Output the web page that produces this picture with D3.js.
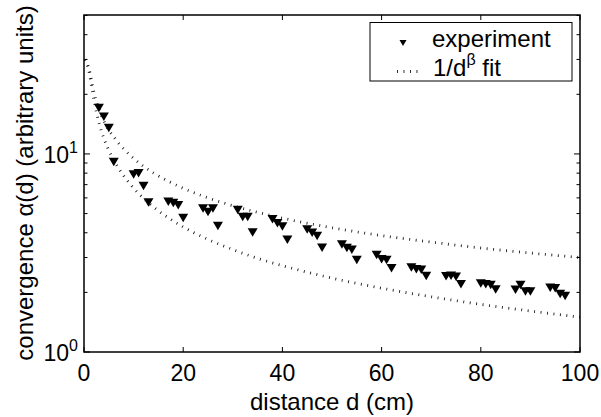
<!DOCTYPE html>
<html><head><meta charset="utf-8">
<script src="https://cdn.jsdelivr.net/npm/d3@7"></script>
<style>
body{margin:0;background:#fff}
svg{display:block}
text{font-family:"Liberation Sans",Arial,Helvetica,sans-serif;fill:#000}
</style>
</head><body><svg id="c" width="601" height="417"></svg>
<script>
// experiment: distance d (cm) and convergence α(d)
const distance = [3,4,5,6, 10,11,12,13, 17,18,19,20, 24,25,26,27, 31,32,33,34, 38,39,40,41,
  45,46,47,48, 52,53,54,55, 59,60,61,62, 66,67,68,69, 73,74,75,76, 80,81,82,83, 87,88,89,90, 94,95,96,97];
const convergence = [17.07,15.43,13.53,9.11, 7.88,7.99,6.89,5.69, 5.74,5.66,5.50,4.75,
  5.30,5.09,5.30,4.33, 5.21,4.81,4.81,4.01, 4.68,4.47,4.30,3.69, 4.16,4.00,3.85,3.36,
  3.49,3.35,3.28,2.91, 3.09,2.94,2.91,2.65, 2.67,2.62,2.60,2.42, 2.41,2.43,2.40,2.20,
  2.22,2.20,2.18,2.07, 2.06,2.18,2.02,2.02, 2.11,2.10,1.96,1.92];
// 1/d^beta fit curves (two bounds)
const fitD = [0.3,1,2,3,4,5,6,7,8,10,12,14,17,20,25,30,35,40,50,60,70,80,90,100];
const fitUpper = [30,27,20.5,16.8,14.7,13.2,12.2,11.3,10.6,9.49,8.66,8.02,7.28,6.71,6.0,5.48,5.07,4.74,4.24,3.87,3.59,3.35,3.16,3.0];
const fitLower = [30,26,18.6,14.4,12.0,10.45,9.33,8.45,7.76,6.72,5.97,5.40,4.76,4.28,3.70,3.29,2.97,2.73,2.36,2.10,1.90,1.74,1.61,1.50];
const xTicks = [0,20,40,60,80,100];
const yMajor = [1,10];
const yMajorExp = ["0","1"];
const yMinor = [2,3,4,5,6,7,8,9,20,30,40,50];
const xLabel = "distance d (cm)";
const yLabel = "convergence α(d) (arbitrary units)";
const legendLabels = ["experiment", "1/d", "β", " fit"];

const svg = d3.select("#c");
const L = 84, R = 580, T = 15, B = 352;
const x = d3.scaleLinear().domain([0,100]).range([L,R]);
const y = d3.scaleLog().domain([1,50.3]).range([B,T]);

// fit curves
const dotted = {stroke:"#1a1a1a", "stroke-width":2.8, "stroke-dasharray":"0.9 5.6", fill:"none"};
const line = d3.line().x(d=>x(d[0])).y(d=>y(d[1])).curve(d3.curveMonotoneX);
[fitUpper, fitLower].forEach(arr=>{
  const p = svg.append("path").attr("d", line(fitD.map((d,i)=>[d,arr[i]])));
  Object.entries(dotted).forEach(([k,v])=>p.attr(k,v));
});

// markers
const tri = (w,h)=>`M${-w/2},${-h/2}L${w/2},${-h/2}L0,${h/2}Z`;
svg.append("g").selectAll("path").data(distance.map((d,i)=>[d,convergence[i]]))
  .join("path").attr("d", tri(10,8.5))
  .attr("transform", d=>`translate(${x(d[0])},${y(d[1])})`)
  .attr("fill","#000");

// frame
svg.append("rect").attr("x",L).attr("y",T).attr("width",R-L).attr("height",B-T)
  .attr("fill","none").attr("stroke","#000").attr("stroke-width",1.5);

// ticks (inward, all four sides)
const xt = svg.append("g").attr("stroke","#000").attr("stroke-width",1);
xTicks.forEach(v=>{
  xt.append("line").attr("x1",x(v)).attr("x2",x(v)).attr("y1",B).attr("y2",B-5);
  xt.append("line").attr("x1",x(v)).attr("x2",x(v)).attr("y1",T).attr("y2",T+5);
});
yMajor.forEach(v=>{
  xt.append("line").attr("x1",L).attr("x2",L+6).attr("y1",y(v)).attr("y2",y(v));
  xt.append("line").attr("x1",R).attr("x2",R-6).attr("y1",y(v)).attr("y2",y(v));
});
yMinor.forEach(v=>{
  xt.append("line").attr("x1",L).attr("x2",L+3.5).attr("y1",y(v)).attr("y2",y(v));
  xt.append("line").attr("x1",R).attr("x2",R-3.5).attr("y1",y(v)).attr("y2",y(v));
});

// x tick labels
svg.append("g").selectAll("text").data(xTicks).join("text")
  .attr("x",d=>x(d)).attr("y",381).attr("text-anchor","middle")
  .style("font-size","23px").text(d=>d);

// y tick labels
yMajor.forEach((v,i)=>{
  const t = svg.append("text").attr("x",78).attr("y",y(v)+9).attr("text-anchor","end")
    .style("font-size","23px");
  t.append("tspan").text("10");
  t.append("tspan").attr("dy",-10).style("font-size","16px").text(yMajorExp[i]);
});

// axis labels
svg.append("text").attr("x",(L+R)/2).attr("y",410).attr("text-anchor","middle")
  .style("font-size","24px").text(xLabel);
svg.append("text").attr("transform","translate(33,183) rotate(-90)").attr("text-anchor","middle")
  .style("font-size","24px").text(yLabel);

// legend
const lg = svg.append("g");
lg.append("rect").attr("x",370).attr("y",22.5).attr("width",202).attr("height",58.5)
  .attr("fill","#fff").attr("stroke","#000").attr("stroke-width",1);
lg.append("path").attr("d",tri(7,6)).attr("transform","translate(403,43)").attr("fill","#000");
const ls = lg.append("line").attr("x1",397).attr("x2",420).attr("y1",71.5).attr("y2",71.5);
Object.entries(dotted).forEach(([k,v])=>ls.attr(k,v));
lg.append("text").attr("x",432).attr("y",47).style("font-size","24px").text(legendLabels[0]);
const t2 = lg.append("text").attr("x",433).attr("y",76).style("font-size","24px");
t2.append("tspan").text(legendLabels[1]);
t2.append("tspan").attr("dy",-11).style("font-size","16px").text(legendLabels[2]);
t2.append("tspan").attr("dy",11).text(legendLabels[3]);
</script>
</body></html>
